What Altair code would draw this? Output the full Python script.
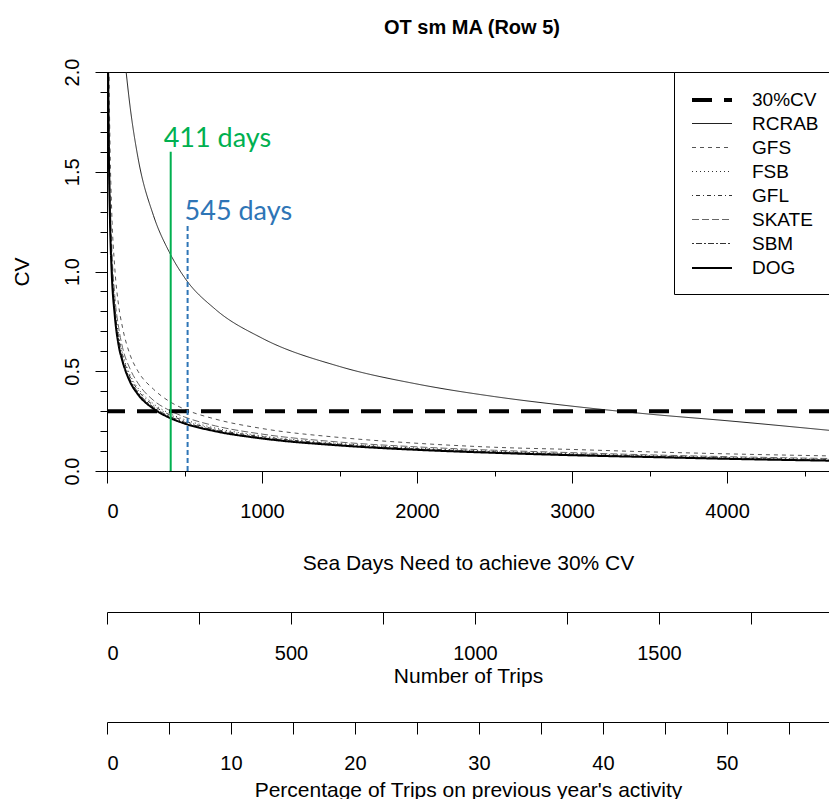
import altair as alt
import pandas as pd

# ---------------- data ----------------
series = ["30%CV", "RCRAB", "GFS", "FSB", "GFL", "SKATE", "SBM", "DOG"]

days = [5, 8, 12, 20, 30, 50, 75, 100, 150, 200, 300, 400, 500, 700,
        1000, 1500, 2000, 2500, 3000, 3500, 4000, 4711]
gfs = [3.22, 2.54, 2.08, 1.61, 1.31, 1.02, 0.83, 0.72, 0.58, 0.50, 0.41, 0.35, 0.31, 0.26,
       0.213, 0.168, 0.139, 0.119, 0.108, 0.096, 0.086, 0.075]
skate = [2.79, 2.21, 1.80, 1.40, 1.14, 0.88, 0.72, 0.62, 0.51, 0.44, 0.354, 0.305, 0.271, 0.226,
         0.185, 0.145, 0.121, 0.104, 0.092, 0.081, 0.072, 0.062]
fsb = [2.66, 2.10, 1.72, 1.33, 1.08, 0.84, 0.68, 0.59, 0.48, 0.415, 0.337, 0.290, 0.258, 0.215,
       0.176, 0.138, 0.115, 0.099, 0.087, 0.077, 0.068, 0.058]
gfl = [2.59, 2.05, 1.67, 1.30, 1.06, 0.82, 0.67, 0.58, 0.47, 0.405, 0.329, 0.283, 0.251, 0.209,
       0.172, 0.135, 0.112, 0.096, 0.084, 0.074, 0.065, 0.055]
sbm = [2.53, 2.00, 1.63, 1.26, 1.03, 0.80, 0.65, 0.56, 0.457, 0.394, 0.320, 0.275, 0.245, 0.204,
       0.167, 0.131, 0.109, 0.094, 0.082, 0.072, 0.063, 0.053]
dog = [2.46, 1.94, 1.59, 1.23, 1.00, 0.78, 0.63, 0.55, 0.445, 0.384, 0.312, 0.268, 0.238, 0.199,
       0.163, 0.128, 0.106, 0.091, 0.079, 0.070, 0.061, 0.051]

rcrab_days = [110, 150, 200, 300, 400, 500, 700, 1000, 1500, 2000, 2500, 3000, 3500, 4000, 4711]
rcrab = [2.10, 1.82, 1.57, 1.28, 1.10, 0.97, 0.81, 0.666, 0.524, 0.436, 0.373, 0.325, 0.285, 0.252, 0.200]

target_cv = [0.3]

marker_days = [411, 520]
marker_top = [1.6, 1.23]
marker_text = ["411 days", "545 days"]

# axis tick values / visible extents (the reference is cut at its right edge)
x_days_ticks = [0, 500, 1000, 1500, 2000, 2500, 3000, 3500, 4000, 4500]
y_ticks = [0.0, 0.1, 0.2, 0.3, 0.4, 0.5, 0.6, 0.7, 0.8, 0.9, 1.0,
           1.1, 1.2, 1.3, 1.4, 1.5, 1.6, 1.7, 1.8, 1.9, 2.0]
trip_ticks = [0, 250, 500, 750, 1000, 1250, 1500, 1750]
pct_ticks = [0, 5, 10, 15, 20, 25, 30, 35, 40, 45, 50, 55]
days_extent = [0, 4658]
trips_extent = [0, 1962]
pct_extent = [0, 58.24]

# ---------------- styles ----------------
dashes = [[20, 12], [1, 0], [4, 4], [1, 3], [1, 3, 4, 3], [7, 3], [2, 2, 6, 2], [1, 0]]
widths = [4, 1, 1, 1, 1, 1, 1, 2]
colors = ["#000000", "#222222", "#555555", "#333333", "#333333", "#666666", "#333333", "#000000"]
FONT = "Liberation Sans"
GREEN = "#00B050"
BLUE = "#2E75B6"

rows = []
for name, vals in [("GFS", gfs), ("SKATE", skate), ("FSB", fsb), ("GFL", gfl), ("SBM", sbm), ("DOG", dog)]:
    for d, v in zip(days, vals):
        rows.append({"days": d, "cv": v, "series": name})
for d, v in zip(rcrab_days, rcrab):
    rows.append({"days": d, "cv": v, "series": "RCRAB"})
curves_df = pd.DataFrame(rows)
rule_df = pd.DataFrame({"cv": target_cv, "series": ["30%CV"]})
mark_df = pd.DataFrame({"days": marker_days, "top": marker_top, "bottom": [0, 0], "label": marker_text})

legend = alt.Legend(title=None, orient="none", legendX=567, legendY=0,
                    symbolType="M-1,0H3", symbolSize=400, labelFontSize=19, labelFont=FONT,
                    labelColor="black", labelOffset=38, padding=16, rowPadding=3,
                    strokeColor="black", fillColor="white")

xs = alt.Scale(domain=days_extent, nice=False, zero=False)
ys = alt.Scale(domain=[0, 2], nice=False)

x_axis = alt.Axis(values=x_days_ticks, format="d", labelOverlap=False,
                  labelExpr="datum.value % 1000 == 0 ? datum.label : ''",
                  tickSize={"condition": {"test": "datum.value % 1000 == 0", "value": 12}, "value": 5},
                  labelPadding=18, labelFontSize=20, title="Sea Days Need to achieve 30% CV",
                  titleFontSize=21, titlePadding=31, grid=False)
y_axis = alt.Axis(values=y_ticks, labelAngle=270, labelAlign="center", labelBaseline="bottom",
                  labelOverlap=False,
                  labelExpr="round(datum.value * 10) % 5 == 0 ? format(datum.value, '.1f') : ''",
                  tickSize={"condition": {"test": "round(datum.value * 10) % 5 == 0", "value": 12}, "value": 7},
                  labelPadding=13, labelFontSize=20, title="CV", titleFontSize=21, titlePadding=30,
                  grid=False)

X = alt.X("days:Q", scale=xs, axis=x_axis)
Y = alt.Y("cv:Q", scale=ys, axis=y_axis)

color_enc = alt.Color("series:N", scale=alt.Scale(domain=series, range=colors), legend=legend)
dash_enc = alt.StrokeDash("series:N", scale=alt.Scale(domain=series, range=dashes), legend=legend)
width_enc = alt.StrokeWidth("series:N", scale=alt.Scale(type="ordinal", domain=series, range=widths),
                            legend=legend)

curves = alt.Chart(curves_df).mark_line(clip=True, interpolate="monotone").encode(
    x=X, y=Y, color=color_enc, strokeDash=dash_enc, strokeWidth=width_enc, detail="series:N",
)
rule30 = alt.Chart(rule_df).mark_rule().encode(
    y=Y, color=color_enc, strokeDash=dash_enc, strokeWidth=width_enc,
)
Yb = alt.Y("bottom:Q", scale=ys, axis=y_axis)
Yt = alt.Y("top:Q", scale=ys, axis=y_axis)
green_line = alt.Chart(mark_df.iloc[[0]]).mark_rule(color=GREEN, strokeWidth=2).encode(
    x=X, y=Yb, y2="top:Q")
blue_line = alt.Chart(mark_df.iloc[[1]]).mark_rule(color=BLUE, strokeWidth=2, strokeDash=[5, 3]).encode(
    x=X, y=Yb, y2="top:Q")
green_text = alt.Chart(mark_df.iloc[[0]]).mark_text(
    align="left", baseline="alphabetic", dx=-7, dy=-5, font="Lato", fontSize=27, color=GREEN
).encode(x=X, y=Yt, text="label:N")
blue_text = alt.Chart(mark_df.iloc[[1]]).mark_text(
    align="left", baseline="alphabetic", dx=-3, dy=-6, font="Lato", fontSize=27, color=BLUE
).encode(x=X, y=Yt, text="label:N")

main = alt.layer(curves, rule30, green_line, blue_line, green_text, blue_text)

trips_df = pd.DataFrame({"t": trips_extent})
trips = alt.Chart(trips_df).mark_point(opacity=0).encode(
    x=alt.X("t:Q", scale=alt.Scale(domain=trips_extent, nice=False, zero=False),
            axis=alt.Axis(orient="bottom", offset=141, values=trip_ticks, format="d",
                          labelOverlap=False,
                          labelExpr="datum.value % 500 == 0 ? datum.label : ''",
                          tickSize=12, labelPadding=19, labelFontSize=20,
                          title="Number of Trips", titleFontSize=21, titlePadding=2, grid=False)),
    y=alt.value(0),
)
pct_df = pd.DataFrame({"p": pct_extent})
pct = alt.Chart(pct_df).mark_point(opacity=0).encode(
    x=alt.X("p:Q", scale=alt.Scale(domain=pct_extent, nice=False, zero=False),
            axis=alt.Axis(orient="bottom", offset=251, values=pct_ticks, format="d",
                          labelOverlap=False,
                          labelExpr="datum.value % 10 == 0 ? datum.label : ''",
                          tickSize=12, labelPadding=19, labelFontSize=20,
                          title="Percentage of Trips on previous year's activity",
                          titleFontSize=21, titlePadding=6, grid=False)),
    y=alt.value(0),
)

chart = alt.layer(main, trips, pct).resolve_scale(x="independent").resolve_axis(x="independent").properties(
    width=722, height=399,
    title=alt.Title("OT sm MA (Row 5)", fontSize=20, font=FONT, fontWeight="bold", anchor="middle",
                    frame="group", baseline="alphabetic", offset=4, dx=4, color="black"),
    autosize=alt.AutoSizeParams(type="none"),
    padding={"left": 99, "top": 64, "right": 0, "bottom": 334},
).configure_view(stroke="black", strokeWidth=1).configure_axis(
    labelFont=FONT, titleFont=FONT, labelColor="black", titleColor="black",
    domainColor="black", tickColor="black", titleFontWeight="normal", domainWidth=1, tickWidth=1,
)

chart.save("out.html", embed_options={"renderer": "svg", "actions": False})
